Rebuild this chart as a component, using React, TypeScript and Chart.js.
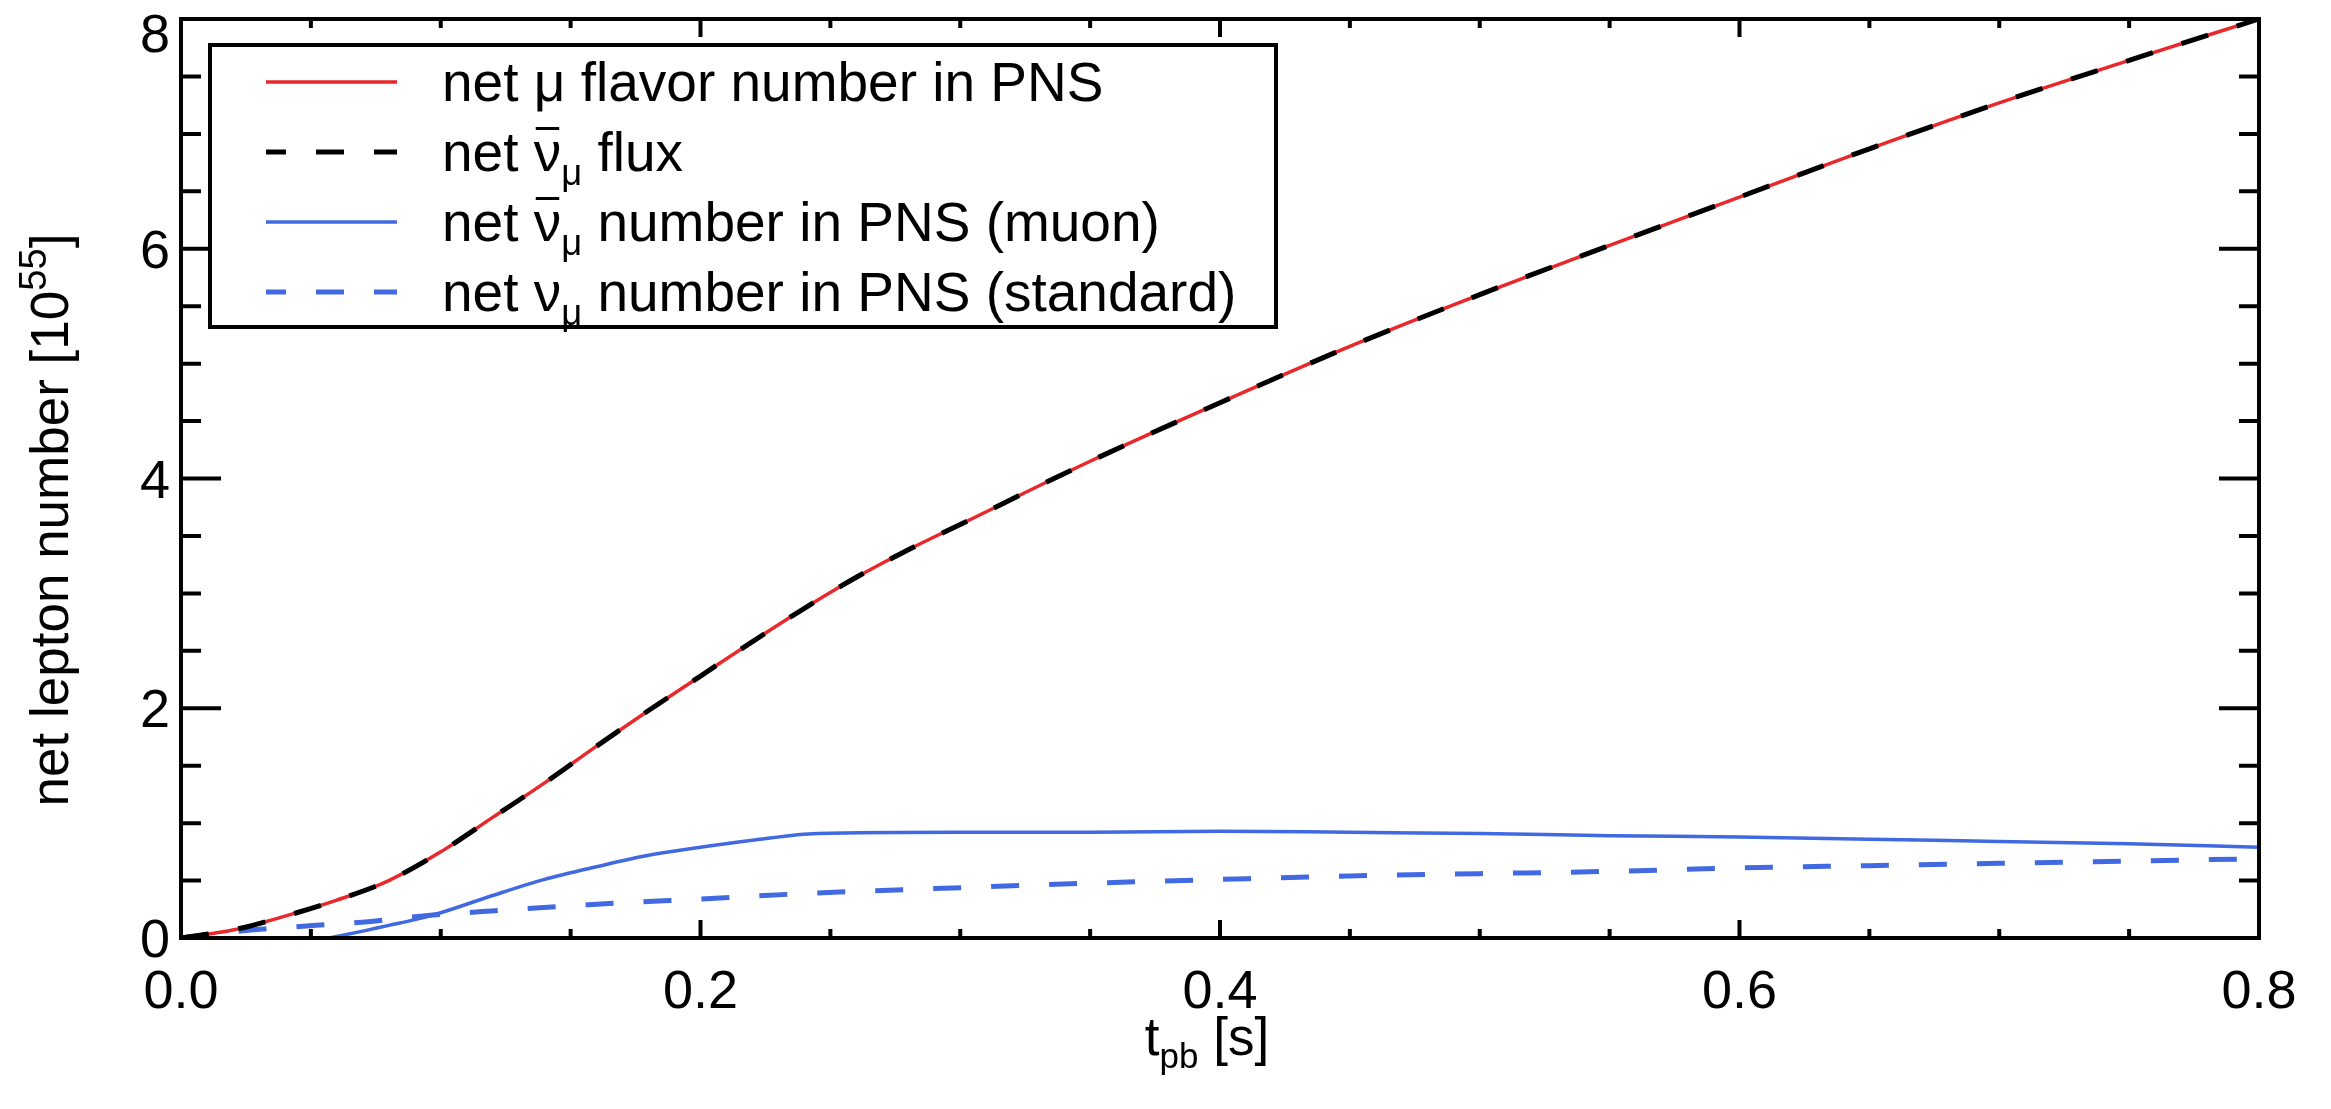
import React, { useEffect, useRef } from "react";
import { Chart, registerables } from "chart.js";

Chart.register(...registerables);

// Post-bounce time [s] sampled for the total muon-flavour curves
const tFlavor = [0, 0.02, 0.04, 0.06, 0.08, 0.1, 0.12, 0.14, 0.16, 0.18, 0.2, 0.22, 0.24, 0.26, 0.28, 0.3, 0.35, 0.4, 0.45, 0.5, 0.55, 0.6, 0.65, 0.7, 0.75, 0.8];
// net mu flavor number in PNS [10^55]
const netMuFlavorPNS = [0, 0.07, 0.19, 0.33, 0.5, 0.75, 1.05, 1.35, 1.67, 1.98, 2.28, 2.58, 2.87, 3.14, 3.38, 3.6, 4.15, 4.66, 5.15, 5.6, 6.03, 6.45, 6.87, 7.27, 7.64, 8.0];
// net anti-nu_mu flux (time integrated) [10^55]
const netAntiNuMuFlux = [0, 0.07, 0.19, 0.33, 0.5, 0.75, 1.05, 1.35, 1.67, 1.98, 2.28, 2.58, 2.87, 3.14, 3.38, 3.6, 4.15, 4.66, 5.15, 5.6, 6.03, 6.45, 6.87, 7.27, 7.64, 8.0];

// net anti-nu_mu number in PNS, muon run
const tMuonRun = [0.057, 0.07, 0.08, 0.09, 0.1, 0.12, 0.14, 0.16, 0.18, 0.2, 0.22, 0.245, 0.3, 0.35, 0.4, 0.45, 0.5, 0.55, 0.6, 0.65, 0.7, 0.75, 0.8];
const netAntiNuMuMuonRun = [0, 0.06, 0.11, 0.16, 0.22, 0.37, 0.51, 0.62, 0.72, 0.79, 0.85, 0.91, 0.92, 0.92, 0.93, 0.92, 0.91, 0.89, 0.88, 0.86, 0.84, 0.82, 0.79];

// net nu_mu number in PNS, standard run
const tStandardRun = [0, 0.027, 0.052, 0.071, 0.097, 0.116, 0.157, 0.2, 0.243, 0.29, 0.354, 0.4, 0.45, 0.5, 0.55, 0.6, 0.65, 0.7, 0.75, 0.8];
const netNuMuStandardRun = [0, 0.07, 0.11, 0.14, 0.2, 0.23, 0.29, 0.34, 0.39, 0.43, 0.48, 0.51, 0.54, 0.56, 0.58, 0.61, 0.63, 0.65, 0.67, 0.69];

// Axes
const xRange = [0, 0.8];
const yRange = [0, 8];
const xMajorTicks = [0, 0.2, 0.4, 0.6, 0.8];
const xTickLabels = ["0.0", "0.2", "0.4", "0.6", "0.8"];
const xMinorStep = 0.05;
const yMajorTicks = [0, 2, 4, 6, 8];
const yTickLabels = ["0", "2", "4", "6", "8"];
const yMinorStep = 0.5;

type Part = { t: string; sub?: boolean; sup?: boolean; bar?: boolean };

const legendLabels: Part[][] = [
  [{ t: "net μ flavor number in PNS" }],
  [{ t: "net " }, { t: "ν", bar: true }, { t: "μ", sub: true }, { t: " flux" }],
  [{ t: "net " }, { t: "ν", bar: true }, { t: "μ", sub: true }, { t: " number in PNS (muon)" }],
  [{ t: "net " }, { t: "ν" }, { t: "μ", sub: true }, { t: " number in PNS (standard)" }],
];
const xTitle: Part[] = [{ t: "t" }, { t: "pb", sub: true }, { t: " [s]" }];
const yTitle: Part[] = [{ t: "net lepton number [10" }, { t: "55", sup: true }, { t: "]" }];

const RED = "#E8282B";
const BLACK = "#000000";
const BLUE = "#4169E1";
const FONT = '"Liberation Sans", Arial, Helvetica, sans-serif';

const legendStyles = [
  { color: RED, dash: [] as number[], width: 3.5 },
  { color: BLACK, dash: [28, 30], width: 5 },
  { color: BLUE, dash: [] as number[], width: 3.5 },
  { color: BLUE, dash: [28, 30], width: 5 },
];

function pts(xs: number[], ys: number[]) {
  return xs.map((x, i) => ({ x, y: ys[i] }));
}

function scriptSize(p: Part, size: number) {
  if (p.sub) return size * 0.66;
  if (p.sup) return size * 0.72;
  return size;
}

function measureRich(ctx: CanvasRenderingContext2D, parts: Part[], size: number) {
  let w = 0;
  for (const p of parts) {
    ctx.font = `${scriptSize(p, size)}px ${FONT}`;
    w += ctx.measureText(p.t).width;
  }
  return w;
}

function drawRich(ctx: CanvasRenderingContext2D, parts: Part[], x: number, baseline: number, size: number) {
  let cx = x;
  ctx.textAlign = "left";
  ctx.textBaseline = "alphabetic";
  for (const p of parts) {
    ctx.font = `${scriptSize(p, size)}px ${FONT}`;
    let yy = baseline;
    if (p.sub) yy += size * 0.25;
    if (p.sup) yy -= size * 0.42;
    ctx.fillText(p.t, cx, yy);
    const w = ctx.measureText(p.t).width;
    if (p.bar) ctx.fillRect(cx + 2, baseline - size * 0.8, w - 4, 3);
    cx += w;
  }
}

const isMajor = (v: number, majors: number[]) => majors.some((m) => Math.abs(m - v) < 1e-6);

const framePlugin = {
  id: "idlFrame",
  afterDatasetsDraw(chart: any) {
    const { ctx, chartArea: a, scales } = chart;
    const xs = scales.x;
    const ys = scales.y;
    ctx.save();
    ctx.strokeStyle = BLACK;
    ctx.fillStyle = BLACK;
    ctx.lineWidth = 4;
    ctx.lineCap = "butt";

    // inward ticks on all four sides
    ctx.beginPath();
    const nx = Math.round((xRange[1] - xRange[0]) / xMinorStep);
    for (let i = 0; i <= nx; i++) {
      const v = xRange[0] + i * xMinorStep;
      const px = xs.getPixelForValue(v);
      const len = isMajor(v, xMajorTicks) ? 18 : 9;
      ctx.moveTo(px, a.bottom);
      ctx.lineTo(px, a.bottom - len);
      ctx.moveTo(px, a.top);
      ctx.lineTo(px, a.top + len);
    }
    const ny = Math.round((yRange[1] - yRange[0]) / yMinorStep);
    for (let i = 0; i <= ny; i++) {
      const v = yRange[0] + i * yMinorStep;
      const py = ys.getPixelForValue(v);
      const len = isMajor(v, yMajorTicks) ? 40 : 20;
      ctx.moveTo(a.left, py);
      ctx.lineTo(a.left + len, py);
      ctx.moveTo(a.right, py);
      ctx.lineTo(a.right - len, py);
    }
    ctx.stroke();
    ctx.strokeRect(a.left, a.top, a.right - a.left, a.bottom - a.top);

    // tick labels
    ctx.font = `54px ${FONT}`;
    ctx.textAlign = "center";
    ctx.textBaseline = "alphabetic";
    xMajorTicks.forEach((v, i) => {
      ctx.fillText(xTickLabels[i], xs.getPixelForValue(v), a.bottom + 70);
    });
    ctx.textAlign = "right";
    yMajorTicks.forEach((v, i) => {
      const base = Math.max(ys.getPixelForValue(v) + 19, a.top + 33);
      ctx.fillText(yTickLabels[i], a.left - 11, base);
    });

    // axis titles
    const tSize = 53;
    const xw = measureRich(ctx, xTitle, tSize);
    drawRich(ctx, xTitle, (a.left + a.right) / 2 - 13 - xw / 2, a.bottom + 117, tSize);
    const yw = measureRich(ctx, yTitle, tSize);
    ctx.save();
    ctx.translate(68, 520);
    ctx.rotate(-Math.PI / 2);
    drawRich(ctx, yTitle, -yw / 2, 0, tSize);
    ctx.restore();

    // legend box
    const bx = a.left + 29;
    const by = a.top + 26;
    const bw = 1066;
    const bh = 282;
    ctx.fillStyle = "#ffffff";
    ctx.fillRect(bx, by, bw, bh);
    ctx.strokeStyle = BLACK;
    ctx.lineWidth = 4;
    ctx.strokeRect(bx, by, bw, bh);
    legendLabels.forEach((parts, i) => {
      const rowY = by + 37 + i * 70;
      const st = legendStyles[i];
      ctx.save();
      ctx.strokeStyle = st.color;
      ctx.lineWidth = st.width;
      ctx.setLineDash(st.dash);
      ctx.lineDashOffset = 8;
      ctx.beginPath();
      ctx.moveTo(bx + 56, rowY);
      ctx.lineTo(bx + 187, rowY);
      ctx.stroke();
      ctx.restore();
      ctx.fillStyle = BLACK;
      drawRich(ctx, parts, bx + 232, rowY + 19, 55);
    });
    ctx.restore();
  },
};

export default function App() {
  const ref = useRef<HTMLCanvasElement | null>(null);

  useEffect(() => {
    if (!ref.current) return;
    const chart = new Chart(ref.current, {
      type: "line",
      data: {
        datasets: [
          {
            label: "net μ flavor number in PNS",
            data: pts(tFlavor, netMuFlavorPNS),
            borderColor: RED,
            borderWidth: 3.5,
            pointRadius: 0,
            cubicInterpolationMode: "monotone",
            order: 1,
          },
          {
            label: "net ν̄μ flux",
            data: pts(tFlavor, netAntiNuMuFlux),
            borderColor: BLACK,
            borderWidth: 5,
            borderDash: [28, 30],
            pointRadius: 0,
            cubicInterpolationMode: "monotone",
            order: 0,
          },
          {
            label: "net ν̄μ number in PNS (muon)",
            data: pts(tMuonRun, netAntiNuMuMuonRun),
            borderColor: BLUE,
            borderWidth: 3.5,
            pointRadius: 0,
            cubicInterpolationMode: "monotone",
            order: 2,
          },
          {
            label: "net νμ number in PNS (standard)",
            data: pts(tStandardRun, netNuMuStandardRun),
            borderColor: BLUE,
            borderWidth: 5,
            borderDash: [28, 30],
            pointRadius: 0,
            cubicInterpolationMode: "monotone",
            order: 3,
          },
        ],
      },
      options: {
        animation: false,
        responsive: false,
        devicePixelRatio: 1,
        layout: { padding: { left: 181, top: 19, right: 72, bottom: 171 } },
        plugins: { legend: { display: false }, tooltip: { enabled: false } },
        events: [],
        scales: {
          x: { type: "linear", min: xRange[0], max: xRange[1], display: false },
          y: { type: "linear", min: yRange[0], max: yRange[1], display: false },
        },
      },
      plugins: [framePlugin],
    });
    return () => chart.destroy();
  }, []);

  return (
    <div style={{ position: "fixed", left: 0, top: 0, width: 2331, height: 1109, background: "#fff" }}>
      <canvas ref={ref} width={2331} height={1109} style={{ width: 2331, height: 1109, display: "block" }} />
    </div>
  );
}
